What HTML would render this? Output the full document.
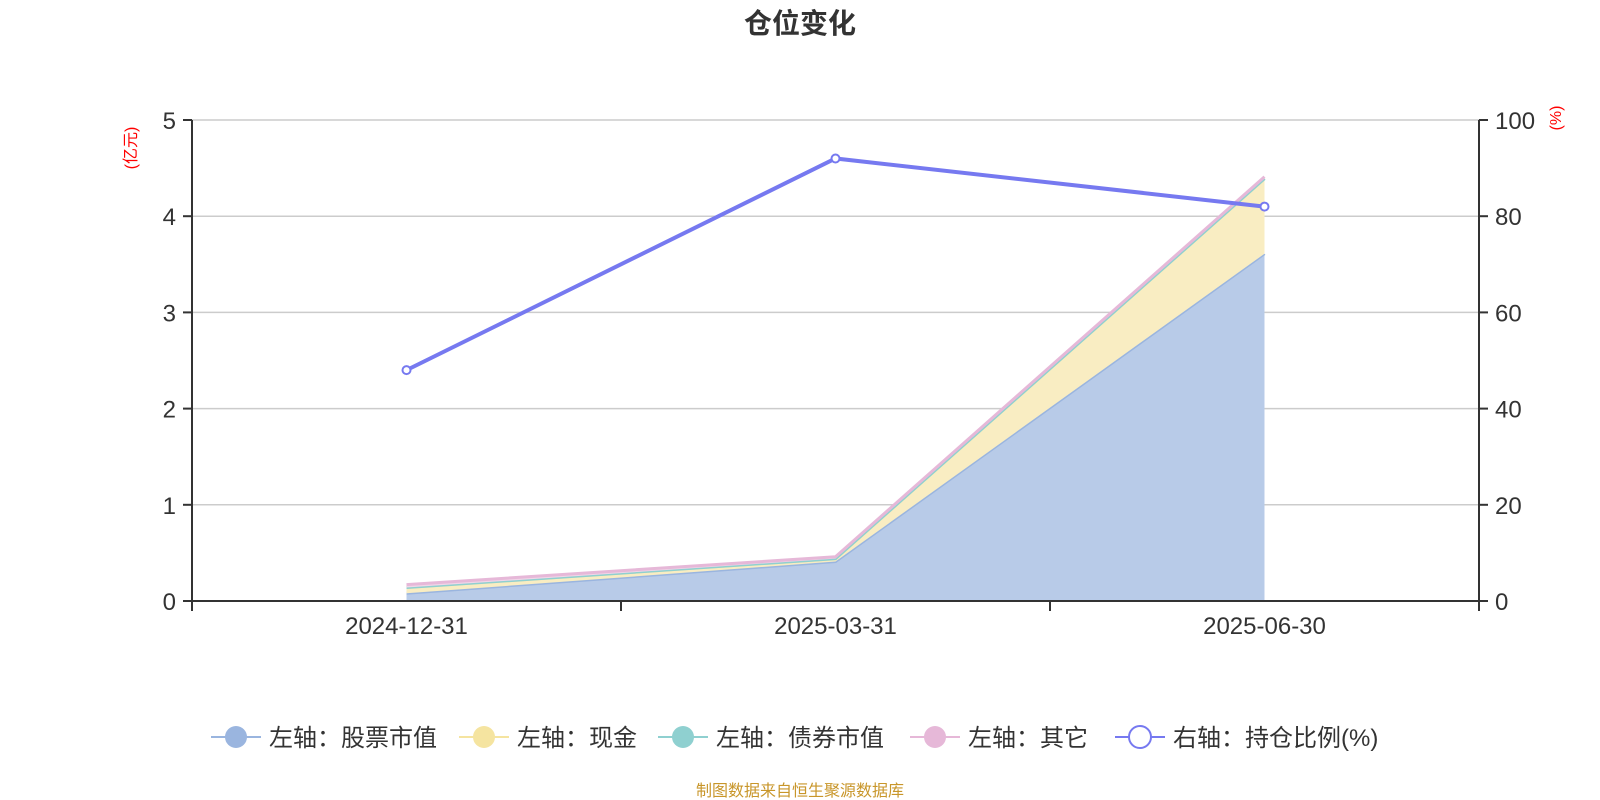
<!DOCTYPE html>
<html><head><meta charset="utf-8"><style>
body{margin:0;background:#fff;}
svg{display:block;font-family:"Liberation Sans","Noto Sans CJK SC",sans-serif;}
</style></head><body>
<svg id="c" width="1600" height="800">
<text x="800" y="33" text-anchor="middle" font-size="28" font-weight="bold" fill="#333">仓位变化</text>
<text transform="translate(136,148) rotate(-90)" text-anchor="middle" font-size="16" fill="#f00">(亿元)</text>
<text transform="translate(1561,118) rotate(-90)" text-anchor="middle" font-size="16" fill="#f00">(%)</text>
<g id="grid"></g><g id="areas"></g><g id="axes"></g><g id="ratio"></g>
<g id="legend"></g>
<text x="800" y="796" text-anchor="middle" font-size="16" fill="#c8962a">制图数据来自恒生聚源数据库</text>
</svg>
<script>
const categories=["2024-12-31","2025-03-31","2025-06-30"];
const stockValues=[0.08,0.41,3.61];
const cashValues=[0.06,0.03,0.78];
const bondValues=[0,0,0];
const otherValues=[0.03,0.02,0.02];
const ratioValues=[48,92,82];
const leftTicks=[0,1,2,3,4,5];
const rightTicks=[0,20,40,60,80,100];
const legendLabels=["左轴：股票市值","左轴：现金","左轴：债券市值","左轴：其它","右轴：持仓比例(%)"];

const NS="http://www.w3.org/2000/svg";
const X0=192,X1=1479,Y0=601,Y1=120;
const band=(X1-X0)/categories.length;
const xS=i=>X0+band*(i+0.5);
const yL=v=>Y0-(v/5)*(Y0-Y1);
const yR=v=>Y0-(v/100)*(Y0-Y1);
function mk(t,a,p){const e=document.createElementNS(NS,t);for(const k in a)e.setAttribute(k,a[k]);p.appendChild(e);return e;}
const grid=document.getElementById('grid'),axes=document.getElementById('axes'),areas=document.getElementById('areas'),ratio=document.getElementById('ratio'),legend=document.getElementById('legend');
leftTicks.forEach((v,i)=>{
 if(v>0){const g=mk('line',{x1:X0,x2:X1,y1:yL(v),y2:yL(v),stroke:'#ccc','stroke-width':1.5},grid);
 
 }
 const t=mk('text',{x:X0-16,y:yL(v)+9,'text-anchor':'end','font-size':24,fill:'#333'},axes);t.textContent=v;
 
 
 mk('line',{x1:X0-9,x2:X0,y1:yL(v),y2:yL(v),stroke:'#333','stroke-width':2},axes);
});
rightTicks.forEach(v=>{
 const t=mk('text',{x:X1+16,y:yR(v)+9,'font-size':24,fill:'#333'},axes);t.textContent=v;
 
 
 mk('line',{x1:X1,x2:X1+9,y1:yR(v),y2:yR(v),stroke:'#333','stroke-width':2},axes);
});
const ax=mk('path',{d:`M${X0},${Y1}V${Y0+10}M${X1},${Y1}V${Y0+10}M${X0},${Y0}H${X1}`,stroke:'#333','stroke-width':2,fill:'none'},axes);


for(let i=0;i<=categories.length;i++)mk('line',{x1:X0+band*i,x2:X0+band*i,y1:Y0,y2:Y0+10,stroke:'#333','stroke-width':2},axes);
categories.forEach((c,i)=>{const t=mk('text',{x:xS(i),y:Y0+33,'text-anchor':'middle','font-size':24,fill:'#333'},axes);t.textContent=c;
 
 });
const series=[[stockValues,'#b8cbe8','#9ab5df','stock'],[cashValues,'#f9edc2','#f5e4a0','cash'],[bondValues,'#b9e0e0','#8fd0d0','bond'],[otherValues,'#f0d6e8','#e6b8d8','other']];
let base=categories.map(()=>0);
series.forEach(([vals,fill,stroke,name])=>{
 const top=vals.map((v,i)=>base[i]+v);
 let d='M'+top.map((v,i)=>xS(i)+','+yL(v)).join('L');
 let da=d+'L'+base.map((v,i)=>xS(i)+','+yL(v)).reverse().join('L')+'Z';
 const a=mk('path',{d:da,fill:fill,stroke:'none'},areas);
 
 
 const l=mk('path',{d:d,fill:'none',stroke:stroke,'stroke-width':3},areas);
 
 
 base=top;
});
const rl=mk('path',{d:'M'+ratioValues.map((v,i)=>xS(i)+','+yR(v)).join('L'),fill:'none',stroke:'#7679f0','stroke-width':4},ratio);


ratioValues.forEach((v,i)=>{const p=mk('circle',{cx:xS(i),cy:yR(v),r:4,fill:'#fff',stroke:'#7679f0','stroke-width':2},ratio);
 
 });
const lx=[211,459,658,910,1115],lc=['#9ab5df','#f5e4a0','#8fd0d0','#e6b8d8','#7679f0'];
legendLabels.forEach((s,i)=>{
 const g=mk('g',{},legend);
 
 
 mk('line',{x1:lx[i],x2:lx[i]+50,y1:737,y2:737,stroke:lc[i],'stroke-width':2},g);
 mk('circle',{cx:lx[i]+25,cy:737,r:11,fill:i==4?'#fff':lc[i],stroke:i==4?lc[i]:'none','stroke-width':2},g);
 const t=mk('text',{x:lx[i]+58,y:746,'font-size':24,fill:'#333'},g);t.textContent=s;
});
</script>
</body></html>
